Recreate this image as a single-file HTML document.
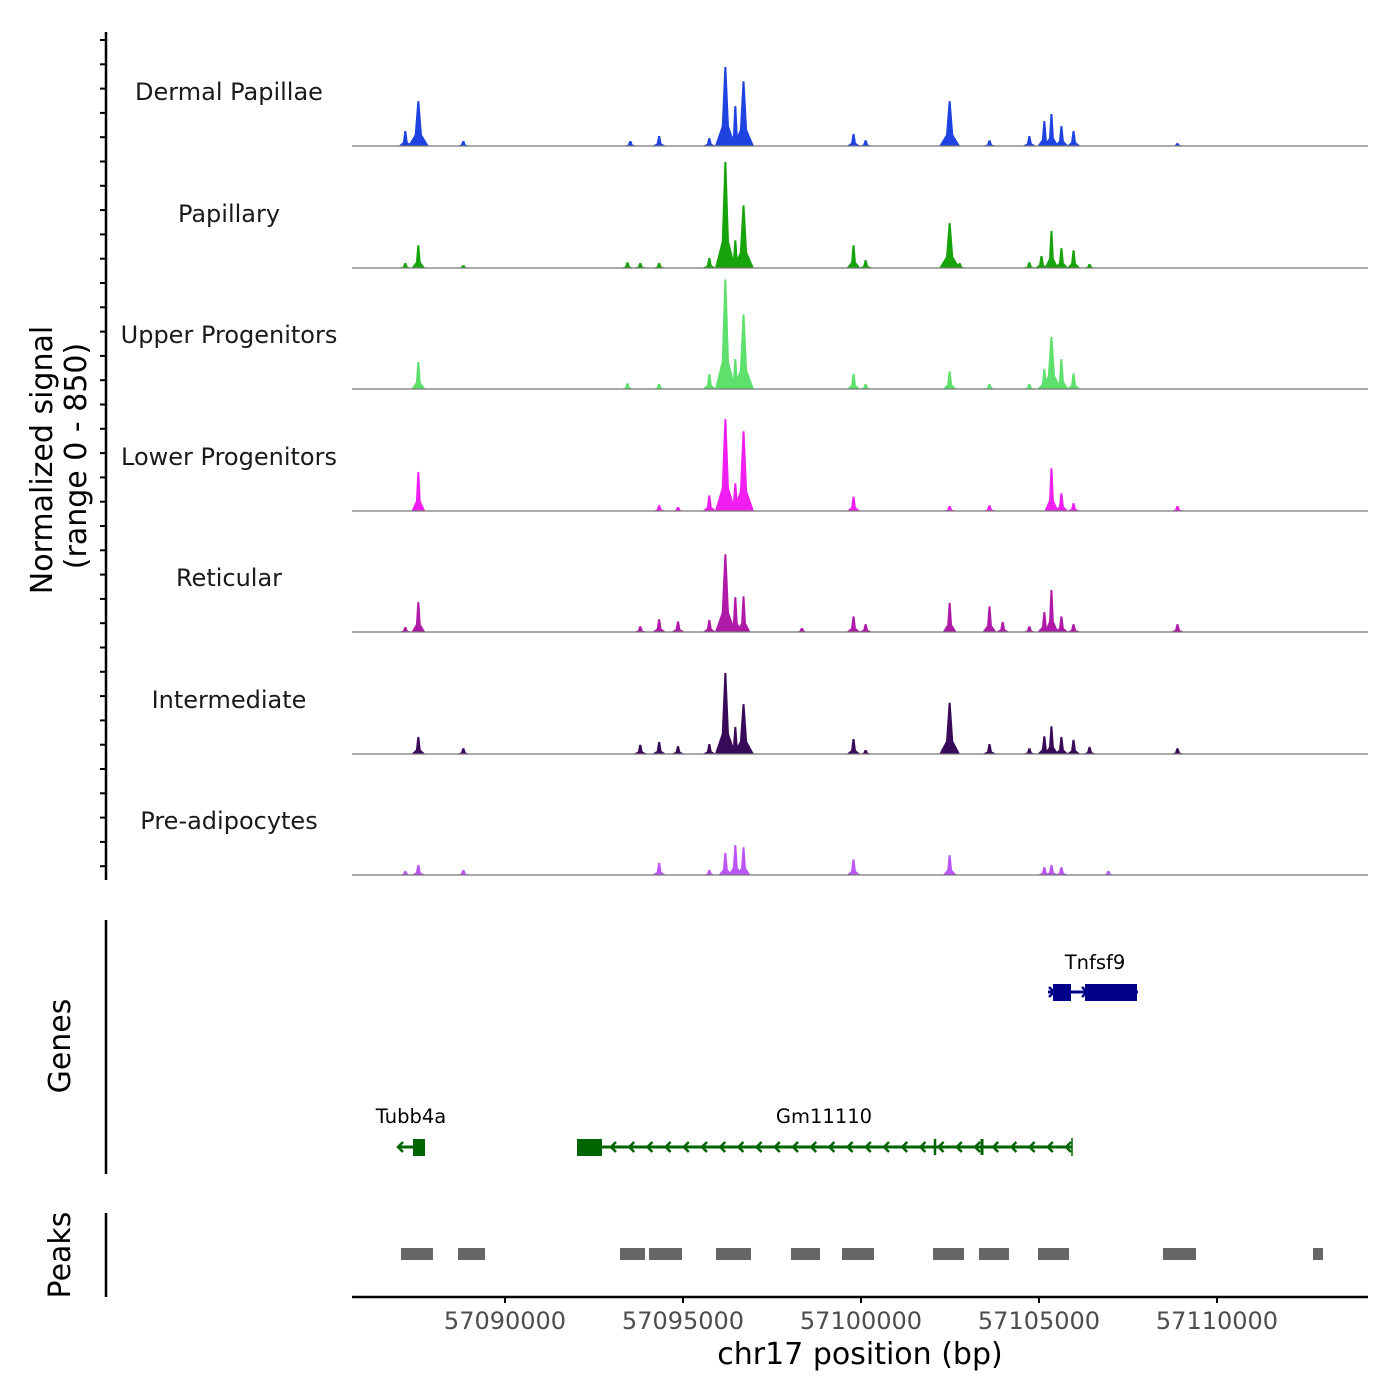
<!DOCTYPE html>
<html><head><meta charset="utf-8"><style>
html,body{margin:0;padding:0;background:#fff;width:1400px;height:1400px;overflow:hidden}
svg text{font-family:"DejaVu Sans","Liberation Sans",sans-serif}
</style></head><body>
<svg id="chart" width="1400" height="1400" viewBox="0 0 1400 1400" xmlns="http://www.w3.org/2000/svg">
<g id="tracks"></g>
<g id="genes"></g>
<g id="peaks"></g>
<g id="axes"></g>
</svg>
<script>
const trackNames = ["Dermal Papillae","Papillary","Upper Progenitors","Lower Progenitors","Reticular","Intermediate","Pre-adipocytes"];
const trackColors = ["#1f43e0","#17a30a","#5ee06c","#f01ef0","#b01aa8","#3a0a5a","#bb55f5"];
// peak centers (bp) and signal values (0-850) per track
const dpPos = [57087200,57087565,57088830,57093520,57094330,57095740,57096190,57096470,57096700,57099790,57100130,57102490,57103610,57104730,57105150,57105350,57105630,57105970,57108890];
const dpVal = [105,315,35,35,70,55,555,280,455,85,40,315,40,70,175,225,140,105,20];
const paPos = [57087200,57087565,57088830,57093440,57093800,57094330,57095740,57096190,57096470,57096700,57099790,57100130,57102490,57102770,57104730,57105070,57105350,57105630,57105970,57106420];
const paVal = [35,160,20,40,35,35,70,745,195,440,160,55,315,35,40,85,260,140,125,28];
const upPos = [57087565,57093440,57094330,57095740,57096190,57096470,57096700,57099790,57100130,57102490,57103610,57104730,57105150,57105350,57105630,57105970];
const upVal = [190,40,35,105,770,210,525,105,35,125,35,35,140,365,210,110];
const loPos = [57087565,57094330,57094860,57095740,57096190,57096470,57096700,57099790,57102490,57103610,57105350,57105630,57105970,57108890];
const loVal = [275,40,28,110,645,195,560,100,35,40,300,125,55,35];
const rePos = [57087200,57087565,57093800,57094330,57094860,57095740,57096190,57096470,57096700,57098340,57099790,57100130,57102490,57103610,57103980,57104730,57105150,57105350,57105630,57105970,57108890];
const reVal = [35,210,40,90,75,85,545,245,250,28,110,55,205,180,70,40,140,295,110,55,55];
const inPos = [57087565,57088830,57093800,57094330,57094860,57095740,57096190,57096470,57096700,57099790,57100130,57102490,57103610,57104730,57105150,57105350,57105630,57105970,57106420,57108890];
const inVal = [120,40,65,85,55,70,570,190,350,105,28,360,70,40,125,195,120,100,50,40];
const prPos = [57087200,57087565,57088830,57094330,57095740,57096190,57096470,57096700,57099790,57102490,57105150,57105350,57105630,57106950];
const prVal = [28,70,35,85,35,155,210,195,110,140,55,70,55,28];
const trackPos = [dpPos,paPos,upPos,loPos,rePos,inPos,prPos];
const trackVal = [dpVal,paVal,upVal,loVal,reVal,inVal,prVal];
const tickVals = [57090000,57095000,57100000,57105000,57110000];
const peakStarts = [57087078,57088680,57093230,57094044,57095927,57098033,57099466,57102023,57103315,57104972,57108483,57112697];
const peakEnds = [57087977,57089438,57093932,57094971,57096910,57098848,57100365,57102893,57104157,57105843,57109410,57112978];

const NS="http://www.w3.org/2000/svg";
const X0=352,X1=1368,BP0=57085702,BP1=57114242;
function xs(bp){return X0+(bp-BP0)/(BP1-BP0)*(X1-X0);}
const baselines=[146,268,389,511,632,754,875], TH=121, YMAX=850;
function ys(v,i){return baselines[i]-v/YMAX*TH;}
function mk(tag,attrs,parent){const e=document.createElementNS(NS,tag);for(const k in attrs)e.setAttribute(k,attrs[k]);parent.appendChild(e);return e;}
const gT=document.getElementById('tracks');
const HW=150;
for(let i=0;i<7;i++){
  const g=mk('g',{},gT);
  
  
  const pos=trackPos[i],val=trackVal[i];
  for(let j=0;j<pos.length;j++){
    const w = val[j]>300?HW*1.5:HW;
    const b=baselines[i], c=xs(pos[j]), top=ys(val[j],i), mid=b-(b-top)*0.25;
    const p=mk('polygon',{points:`${xs(pos[j]-w*1.3)},${b} ${xs(pos[j]-w*0.45)},${mid} ${c-1},${top} ${c+1},${top} ${xs(pos[j]+w*0.45)},${mid} ${xs(pos[j]+w*1.3)},${b}`,fill:trackColors[i]},g);
    
    
  }
  const bl=mk('line',{x1:X0,x2:X1,y1:baselines[i],y2:baselines[i],stroke:'#777','stroke-width':1.2},g);
  
  
  const t=mk('text',{x:229,y:baselines[i]-46,'text-anchor':'middle','font-size':24,fill:'#1a1a1a'},g);
  t.textContent=trackNames[i];
  
  
}
const gA=document.getElementById('axes');
mk('line',{x1:106,x2:106,y1:32,y2:880,stroke:'#000','stroke-width':2.5},gA);
for(let y=40;y<=878;y+=24.3){mk('line',{x1:100,x2:106,y1:y,y2:y,stroke:'#000','stroke-width':2},gA);}
let t=mk('text',{transform:'translate(52,460) rotate(-90)','text-anchor':'middle','font-size':30},gA);t.textContent='Normalized signal';

t=mk('text',{transform:'translate(86,456) rotate(-90)','text-anchor':'middle','font-size':30},gA);t.textContent='(range 0 - 850)';

mk('line',{x1:106,x2:106,y1:920,y2:1174,stroke:'#000','stroke-width':2.5},gA);
t=mk('text',{transform:'translate(70,1046) rotate(-90)','text-anchor':'middle','font-size':30},gA);t.textContent='Genes';

mk('line',{x1:106,x2:106,y1:1213,y2:1297,stroke:'#000','stroke-width':2.5},gA);
t=mk('text',{transform:'translate(70,1255) rotate(-90)','text-anchor':'middle','font-size':30},gA);t.textContent='Peaks';

mk('line',{x1:X0,x2:X1,y1:1297,y2:1297,stroke:'#000','stroke-width':2.5},gA);
for(const v of tickVals){
  mk('line',{x1:xs(v),x2:xs(v),y1:1297,y2:1303,stroke:'#000','stroke-width':2},gA);
  const tl=mk('text',{x:xs(v),y:1329,'text-anchor':'middle','font-size':24,fill:'#4d4d4d'},gA);
  tl.textContent=v;
  
  
}
t=mk('text',{x:860,y:1364,'text-anchor':'middle','font-size':30},gA);t.textContent='chr17 position (bp)';


const gP=document.getElementById('peaks');
for(let i=0;i<peakStarts.length;i++){
  const r=mk('rect',{x:xs(peakStarts[i]),y:1248,width:xs(peakEnds[i])-xs(peakStarts[i]),height:12,fill:'#666'},gP);
  
  
}

const gG=document.getElementById('genes');
function arrowsLeft(x1,x2,y,col,step){for(let x=x1;x<x2;x+=step){mk('polyline',{points:`${x+5},${y-5} ${x},${y} ${x+5},${y+5}`,fill:'none',stroke:col,'stroke-width':2.5},gG);}}
const blue='#00008b';
mk('line',{x1:1048,x2:1138,y1:992,y2:992,stroke:blue,'stroke-width':3},gG);
mk('rect',{x:1053,y:984,width:18,height:17,fill:blue},gG);
mk('rect',{x:1085,y:984,width:52,height:17,fill:blue},gG);
for(const x of [1054,1087,1105]){mk('polyline',{points:`${x-5},${987} ${x},${992} ${x-5},${997}`,fill:'none',stroke:blue,'stroke-width':2.5},gG);}
t=mk('text',{x:1095,y:969,'text-anchor':'middle','font-size':19.5},gG);t.textContent='Tnfsf9';

const green='#006400';
mk('line',{x1:398,x2:424,y1:1147,y2:1147,stroke:green,'stroke-width':3},gG);
mk('rect',{x:413,y:1139,width:12,height:17,fill:green},gG);
arrowsLeft(398,400,1147,green,20);
t=mk('text',{x:411,y:1123,'text-anchor':'middle','font-size':19.5},gG);t.textContent='Tubb4a';

mk('line',{x1:577,x2:1072,y1:1147,y2:1147,stroke:green,'stroke-width':3},gG);
mk('rect',{x:577,y:1139,width:25,height:17,fill:green},gG);
mk('line',{x1:1072,x2:1072,y1:1138,y2:1156,stroke:green,'stroke-width':1.5},gG);
mk('line',{x1:935,x2:935,y1:1139,y2:1155,stroke:green,'stroke-width':2.5},gG);
mk('line',{x1:982,x2:982,y1:1139,y2:1155,stroke:green,'stroke-width':3},gG);
arrowsLeft(611,1070,1147,green,18.2);
t=mk('text',{x:824,y:1123,'text-anchor':'middle','font-size':19.5},gG);t.textContent='Gm11110';

</script>
</body></html>
